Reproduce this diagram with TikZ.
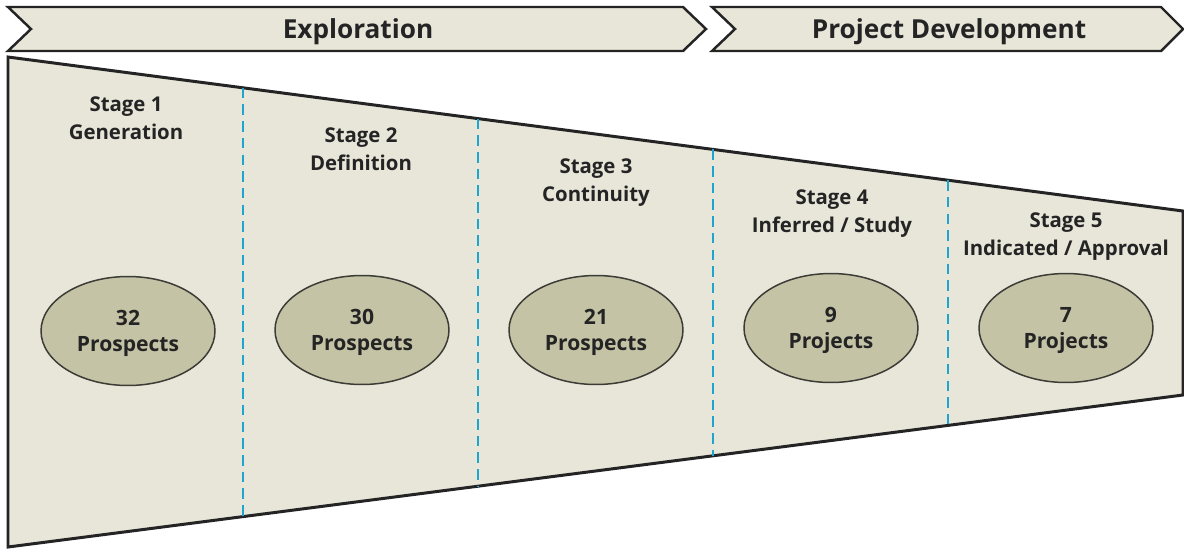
\documentclass[tikz,border=0pt]{standalone}
\usepackage{fontspec}
\setmainfont{Open Sans}
\usetikzlibrary{calc}
\usetikzlibrary{shapes.geometric}
\definecolor{sand}{RGB}{232,229,217}
\definecolor{olive}{RGB}{197,195,165}
\definecolor{ink}{RGB}{36,36,36}
\definecolor{sep}{RGB}{30,165,205}
\tikzset{phase/.style={draw=ink,fill=sand,line width=1.4pt,line join=miter},
phasetext/.style={text=ink,text depth=0pt,font=\bfseries\fontsize{14.9}{17}\selectfont},
funnel/.style={draw=ink,fill=sand,line width=1.7pt},
stagesep/.style={draw=sep,line width=1.3pt,dash pattern=on 6pt off 3.5pt},
stagetext/.style={text=ink,text depth=0pt,align=center,font=\bfseries\fontsize{11.6}{15.9}\selectfont},
count/.style={ellipse,draw=ink!85!olive,fill=olive,line width=0.85pt,minimum width=3.48cm,minimum height=2.18cm,inner sep=0pt,text=ink,text depth=0pt,align=center,font=\bfseries\fontsize{12}{14.8}\selectfont}}

\begin{document}
\begin{tikzpicture}[x=0.02cm,y=-0.02cm]
\useasboundingbox (0,0) rectangle (1184,549);
% phase banners
\draw[phase] (8,7) -- (683,7) -- (706,29) -- (683,51) -- (8,51) -- (31,29) -- cycle;
\draw[phase] (712,7) -- (1161,7) -- (1183,29) -- (1161,51) -- (712,51) -- (735,29) -- cycle;
\node (expl) [phasetext] at (358,29) {Exploration};
\node (dev) [phasetext] at (949,29) {Project Development};

% funnel
\coordinate (tl) at (8,57);
\coordinate (tr) at (1183,211);
\coordinate (br) at (1183,395);
\coordinate (bl) at (8,547);
\draw[funnel] (tl) -- (tr) -- (br) -- (bl) -- cycle;
\foreach \t in {0.2,0.4,0.6,0.8}
  \draw[stagesep] ($(tl)!\t!(tr)$) -- ($(bl)!\t!(br)$);

% stages
\node (s1) [stagetext] at (126,118) {Stage 1\\Generation};
\node (s2) [stagetext] at (361,149) {Stage 2\\Definition};
\node (s3) [stagetext] at (596,180) {Stage 3\\Continuity};
\node (s4) [stagetext] at (832,211) {Stage 4\\Inferred / Study};
\node (s5) [stagetext] at (1066,234) {Stage 5\\Indicated / Approval};

\node (c1) [count] at (128,331) {32\\Prospects};
\node (c2) [count] at (362,330) {30\\Prospects};
\node (c3) [count] at (596,330) {21\\Prospects};
\node (c4) [count] at (831,328) {9\\Projects};
\node (c5) [count] at (1066,328) {7\\Projects};
\end{tikzpicture}
\end{document}
